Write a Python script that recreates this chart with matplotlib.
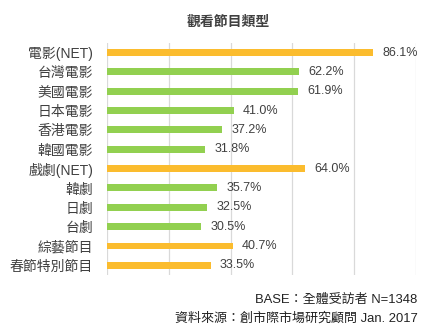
import matplotlib
matplotlib.use("Agg")
import matplotlib.pyplot as plt

plt.rcParams['font.family'] = ['Liberation Sans', 'Noto Sans CJK TC', 'DejaVu Sans']

title = "觀看節目類型"
categories = ["電影(NET)", "台灣電影", "美國電影", "日本電影", "香港電影", "韓國電影",
              "戲劇(NET)", "韓劇", "日劇", "台劇", "綜藝節目", "春節特別節目"]
values = [86.1, 62.2, 61.9, 41.0, 37.2, 31.8, 64.0, 35.7, 32.5, 30.5, 40.7, 33.5]
groups = ["net", "sub", "sub", "sub", "sub", "sub", "net", "sub", "sub", "sub", "net", "net"]
footnotes = ["BASE：全體受訪者 N=1348", "資料來源：創市際市場研究顧問 Jan. 2017"]

palette = {"net": "#FBBC2E", "sub": "#92D050"}
text_color = "#404040"

fig = plt.figure(figsize=(4.33, 3.35), dpi=100)
ax = fig.add_axes([0.247, 0.179, 0.714, 0.693])

ypos = list(range(len(categories)))
ax.barh(ypos, values, height=0.36, color=[palette[g] for g in groups], zorder=2)

for y, v in zip(ypos, values):
    ax.text(v + 3, y, f"{v:.1f}%", va="center", ha="left", fontsize=9, color=text_color)

ax.set_xlim(0, 100)
ax.set_ylim(len(categories) - 0.5, -0.5)
ax.set_xticks([0, 20, 40, 60, 80, 100])
ax.set_xticklabels([])
ax.set_yticks(ypos)
ax.set_yticklabels(categories, fontsize=10, color=text_color)
ax.tick_params(axis="both", length=0)
ax.tick_params(axis="y", pad=10)
ax.grid(axis="x", color="#D9D9D9", linewidth=0.9, zorder=0)
for s in ax.spines.values():
    s.set_visible(False)

fig.text(0.528, 0.934, title, ha="center", va="center", fontsize=10,
         fontweight="bold", color=text_color)
fig.text(0.965, 0.104, footnotes[0], ha="right", va="center", fontsize=9.4, color="#222222")
fig.text(0.965, 0.050, footnotes[1], ha="right", va="center", fontsize=9.4, color="#222222")

fig.savefig("out.png", dpi=100)
